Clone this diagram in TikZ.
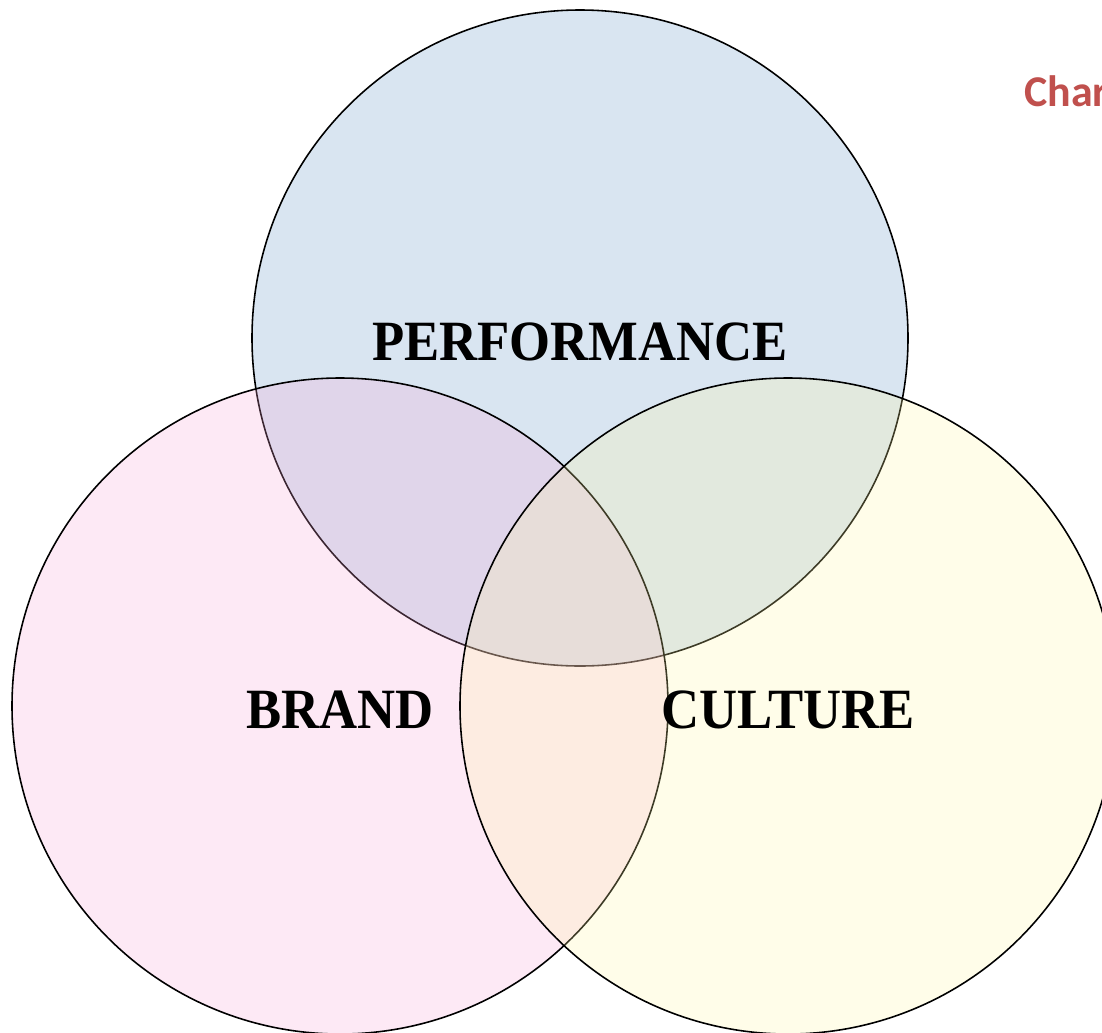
\documentclass[tikz,border=0pt]{standalone}
\usepackage{fontspec}
\setmainfont{Liberation Serif}
\newfontfamily\titlefont{Carlito}
\usepackage{tikz}
\usetikzlibrary{positioning}

\definecolor{perfblue}{RGB}{217,229,241}
\definecolor{brandpink}{RGB}{247,163,213}
\definecolor{cultyellow}{RGB}{255,247,163}
\definecolor{titlered}{RGB}{192,80,77}

\begin{document}
\begin{tikzpicture}[x=0.02cm,y=-0.02cm,
    set/.style={circle,draw=black,line width=0.9pt,minimum size=656*0.02cm,inner sep=0pt},
    shade/.style={set,fill opacity=0.24,text opacity=1},
    label/.style={font=\bfseries\fontsize{30}{36}\selectfont,inner sep=0pt}]
     \useasboundingbox (0,0) rectangle (1102,1032);
     \node[set,fill=perfblue] (perf) at (580,338) {};
     \node[shade,fill=brandpink] (brand) at (340,706) {};
     \node[shade,fill=cultyellow] (cult) at (788,706) {};
     \node[label,yscale=1.08] (perf_t) at ([yshift=-4*0.02cm]perf.center) {PERFORMANCE};
     \node[label,yscale=1.08] (brand_t) at ([yshift=-4*0.02cm]brand.center) {BRAND};
     \node[label,yscale=1.08] (cult_t) at ([yshift=-4*0.02cm]cult.center) {CULTURE};
     \node[anchor=base west,inner sep=0pt,text=titlered,font=\titlefont\bfseries\fontsize{25}{30}\selectfont] (chart) at (1024,106) {Char};
\end{tikzpicture}
\end{document}
